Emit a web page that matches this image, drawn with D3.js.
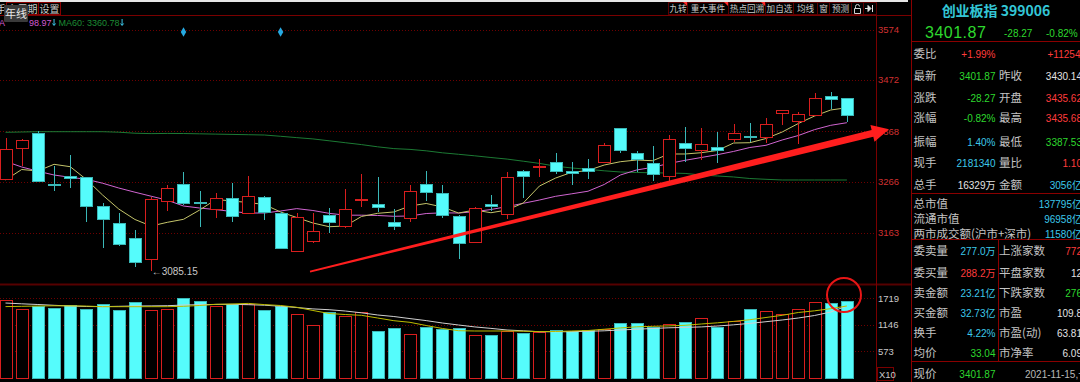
<!DOCTYPE html>
<html>
<head>
<meta charset="utf-8">
<script src="https://cdn.jsdelivr.net/npm/d3@7"></script>
<style>
body{margin:0;background:#000;overflow:hidden}
svg{display:block}
text{font-family:"Liberation Sans","Noto Sans CJK SC",sans-serif}
</style>
</head>
<body>
<div id="Canvas"></div>
<script>
//K線資料 (開 高 低 收)
const openP  = [3272,3333.7,3364,3261.5,3277.7,3275,3217,3182,3152.9,3109.2,3227.1,3261.5,3226.1,3210.3,3232.6,3202.2,3235.8,3202.2,3126.6,3146.8,3198.2,3177.2,3230,3220.4,3184,3192.1,3261.5,3244,3196.8,3143.6,3220.4,3200.8,3288.4,3296.9,3306.6,3288.4,3292.9,3305.4,3374.2,3324.8,3303.4,3278.3,3343.8,3330.3,3336.3,3352.5,3357.6,3356,3404.5,3389.5,3400.5,3439.5,3435.62]
const highP  = [3354,3352,3369.3,3297.9,3320,3276,3223.7,3202,3168.5,3235.8,3259.5,3285.2,3247.3,3244,3262.9,3277.7,3237,3204,3202,3202.2,3212.3,3251.4,3281.7,3275,3210.9,3259.5,3287.8,3259.5,3198.8,3214,3239.2,3286.4,3289,3311.5,3323.6,3306.6,3311.5,3345,3375,3328.2,3337.6,3360.6,3376.2,3374.2,3367.3,3382.9,3385.5,3395.6,3412,3406.5,3445,3448.2,3435.68]
const lowP   = [3272,3298.5,3265,3247.3,3252.8,3185.2,3131.4,3136.7,3093,3085.15,3206.9,3219,3175.1,3193.3,3185.2,3202,3188.7,3129.5,3124.6,3142.8,3163,3171.9,3214.4,3204.9,3168.5,3184,3227.1,3192.1,3109.2,3142,3207.5,3190,3234,3276.3,3281.7,3259.5,3271.6,3303.4,3324.8,3286.4,3267.6,3266.2,3306.6,3310,3304.6,3347,3347,3343.8,3380.8,3341.8,3400,3412.6,3387.53]
const closeP = [3332,3350.5,3267.6,3260.5,3273,3217.6,3190,3140,3104.3,3231.2,3252.8,3222.5,3225,3233.8,3196.8,3237.8,3204.3,3131.4,3194.1,3166.4,3184,3210.3,3231.8,3214.4,3177.2,3247.3,3245.9,3198.8,3141.6,3212.3,3217,3276.3,3278.3,3298.5,3288.4,3283.1,3288.4,3340.4,3330.3,3311.5,3281.1,3351.9,3333.7,3342.4,3330.3,3364,3355.6,3382.9,3411.2,3402.5,3436.1,3433.4,3401.87]
//均線
const ma5  = [3269.6,3290.8,3287.8,3301.3,3296.5,3270.6,3239.2,3210.9,3189.7,3176.5,3184,3190.1,3208.9,3230.1,3227.1,3224.1,3220,3204.9,3193.7,3182.6,3175.1,3176.5,3195.8,3202.2,3204.9,3217,3222.1,3215,3202.8,3208.9,3203.4,3208.9,3223.1,3257.4,3273.6,3285.2,3288.8,3299.9,3306.6,3310,3308.6,3322.2,3322.2,3324.8,3329.3,3344.4,3345,3353.5,3366.7,3383.9,3399,3411.2,3415.8]
const ma10 = [3307.4,3295.9,3287.4,3279.7,3275,3271,3263.1,3253.4,3244.9,3236.8,3228.7,3217,3212.9,3209.7,3205.9,3202.8,3202.8,3206.9,3211.7,3207.9,3202.2,3198.4,3198.4,3197.8,3196.2,3196.8,3201.8,3203.2,3202.8,3205.5,3209.9,3215.8,3222.5,3229.1,3236.6,3241.7,3246.9,3260.5,3279.7,3289.8,3295.3,3303,3309.4,3315.1,3320.8,3327.4,3335.3,3339.8,3350.5,3359.6,3371.5,3380.2,3385.5]
const ma60 = [3366.1,3366.7,3367.3,3367.3,3367.3,3367.3,3367.3,3366.3,3364.2,3363.4,3363.8,3363.6,3363,3362.4,3361.8,3361.2,3360.6,3358,3355.3,3352.7,3348.9,3345,3341.2,3336.7,3333.1,3331.5,3328.6,3324.6,3321.6,3318.5,3315.1,3311.9,3307.6,3303.2,3297.5,3293.9,3291.2,3288.2,3285.8,3284.8,3284.1,3283.7,3282.9,3279.7,3277.7,3275.7,3272.6,3271,3269.6,3269.6,3269.6,3269.6,3269.6]
//成交量 (X10)
const vol  = [1675,1494,1559,1503,1574,1494,1596,1460,1632,1466,1481,1732,1660,1546,1589,1589,1460,1559,1373,1136,1423,1337,1417,1014,1078,949,1093,1057,1078,927,934,1014,977,999,1035,1020,1035,1057,1186,1186,1107,1165,1208,1287,1093,1223,1481,1438,1380,1488,1632,1617,1660]
const vma5  = [1540,1546,1553,1557,1557,1551,1538,1538,1538,1538,1538,1546,1564,1589,1596,1609,1583,1564,1525,1456,1391,1369,1352,1294,1236,1201,1132,1068,1020,1014,1014,1014,1009,1001,1003,1014,1024,1052,1080,1104,1115,1124,1137,1165,1190,1221,1257,1305,1352,1413,1449,1495,1553]
const vma10 = [1617,1600,1585,1568,1553,1542,1540,1546,1553,1555,1559,1574,1581,1587,1589,1581,1570,1548,1520,1490,1473,1445,1406,1359,1326,1281,1238,1186,1143,1102,1070,1035,1018,998,998,998,1007,1018,1035,1052,1068,1083,1091,1102,1121,1147,1178,1214,1251,1294,1348,1423,1553]
//刻度
const priceTicks = [3574,3472,3368,3266,3163]
const volTicks = [1719,1146,573]
//標記
const diamondIdx = [11,17]
const lowMark = {i:9, value:3085.15}
const trendArrow = [{i:18.82, p:3084.5},{i:54.6, p:3372.1}]
const volCircle = {i:51.82, v:1790}
//上方按鈕
const leftTabs = [{t:"多周期",x0:6,x1:38},{t:"设置",x0:38,x1:60}]
const rightTabs = [{t:"九转",x0:668,x1:687,f:1},{t:"重大事件",x0:687,x1:728,f:1},{t:"热点回溯",x0:728,x1:765,f:1},{t:"加自选",x0:765,x1:793},{t:"均线",x0:793,x1:817},{t:"窗",x0:817,x1:829},{t:"预测",x0:829,x1:851},{t:"",x0:851,x1:863,lock:1},{t:"",x0:863,x1:876,pin:1}]
//均線說明
const legendItems = [{t:"98.97",c:"#d25ad2"},{t:"MA60: 3360.78",c:"#1c8c34"}]
//右邊報價
const quoteHead = ["创业板指 399006","3401.87","-28.27","-0.82%"]
const infoRows = [
  ["委比","+1.99%","r","","+112546","r",58],
  ["最新","3401.87","g","昨收","3430.14","w",80],
  ["涨跌","-28.27","g","开盘","3435.62","r",101.5],
  ["涨幅","-0.82%","g","最高","3435.68","r",122],
  ["振幅","1.40%","c","最低","3387.53","g",145.5],
  ["现手","2181340","c","量比","1.10","r",166.5],
  ["总手","16329万","w","金额","3056亿","c",189],
  ["总市值","","","","137795亿","c",208],
  ["流通市值","","","","96958亿","c",223],
  ["两市成交额(沪市+深市)","","","","11580亿","c",238],
  ["委卖量","277.0万","c","上涨家数","772","r",255],
  ["委买量","288.2万","r","平盘家数","12","w",276.5],
  ["卖金额","23.21亿","c","下跌家数","276","g",296.5],
  ["买金额","32.73亿","c","市盈","109.8","w",317],
  ["换手","4.22%","c","市盈(动)","63.81","w",336.5],
  ["均价","33.04","g","市净率","6.09","w",357]
]
const colorMap = {r:"#ff3c3c", g:"#2ed82e", c:"#3cc8ea", w:"#e2e2e2"}

const RED = "#d81e1e", CYAN = "#55fcfc", CYAN_EDGE = "#3ab8b8", GRID = "#6e0000", LINE = "#7a0000"

let svg = d3.select("#Canvas").append("svg")
    .attr("width",1080)
    .attr("height",382)
svg.append("rect").attr("width",1080).attr("height",382).attr("fill","#000")

let xScale = d3.scaleLinear().domain([0,52]).range([5.5,846.9])
let yScale = d3.scaleLinear().domain([3163,3574]).range([232.7,29.5])
let vScale = d3.scaleLinear().domain([0,1719]).range([378,298.3])
const idx = d3.range(openP.length)
const cx = i=>Math.round(xScale(i))

//頂部
svg.append("rect").attr("x",0).attr("y",0).attr("width",908).attr("height",2).attr("fill","#e6e6e6")
svg.append("line").attr("x1",0).attr("x2",911).attr("y1",15.5).attr("y2",15.5).attr("stroke",LINE)
svg.append("text").attr("x",-4).attr("y",12.5).attr("fill","#d0d0d0").style("font-size","10px").text("手")
let lt = svg.append("g").selectAll("g").data(leftTabs).enter().append("g")
lt.append("rect").attr("x",d=>d.x0+0.5).attr("y",2.5).attr("width",d=>d.x1-d.x0).attr("height",12)
    .attr("fill","none").attr("stroke","#8a0000")
lt.append("text").attr("x",d=>(d.x0+d.x1)/2+0.5).attr("y",12.5).attr("text-anchor","middle")
    .attr("fill","#c8c8c8").style("font-size","10px").text(d=>d.t)
let rt = svg.append("g").selectAll("g").data(rightTabs).enter().append("g")
rt.append("rect").attr("x",d=>d.x0+0.5).attr("y",2.5).attr("width",d=>d.x1-d.x0).attr("height",12)
    .attr("fill","none").attr("stroke","#5a0000")
rt.append("text").attr("x",d=>(d.x0+d.x1)/2+0.5).attr("y",12.3).attr("text-anchor","middle")
    .attr("fill","#c8c8c8").style("font-size","8.6px").text(d=>d.t)
rt.filter(d=>d.f).append("path").attr("d",d=>`M${d.x1-4},2 L${d.x1},2 L${d.x1},6 Z`).attr("fill","#ff2a2a")
rt.filter(d=>d.lock).append("path")
    .attr("d",d=>`M${d.x0+3.5},8.5 h6 v5 h-6 Z M${d.x0+4.5},8.5 v-2 a2,2 0 0 1 4,0`)
    .attr("fill","none").attr("stroke","#d0d0d0")
rt.filter(d=>d.pin).append("path")
    .attr("d",d=>`M${d.x0+2},8.5 h5 M${d.x0+5},5.5 l3,3 l-3,3 Z M${d.x0+9.5},5 v7`)
    .attr("fill","#e0e0e0").attr("stroke","#e0e0e0")

//格線
svg.append("g").selectAll("line").data(priceTicks).enter().append("line")
    .attr("x1",0).attr("x2",876).attr("y1",d=>Math.round(yScale(d))+0.5).attr("y2",d=>Math.round(yScale(d))+0.5)
    .attr("stroke",GRID).attr("stroke-dasharray","1,2")
svg.append("g").selectAll("line").data(volTicks).enter().append("line")
    .attr("x1",0).attr("x2",876).attr("y1",d=>Math.round(vScale(d))+0.5).attr("y2",d=>Math.round(vScale(d))+0.5)
    .attr("stroke",GRID).attr("stroke-dasharray","1,2")
svg.append("line").attr("x1",0).attr("x2",911).attr("y1",284.5).attr("y2",284.5).attr("stroke","#560000").attr("stroke-width",2)
svg.append("line").attr("x1",876.5).attr("x2",876.5).attr("y1",15).attr("y2",382).attr("stroke",LINE)

//座標文字
svg.append("g").selectAll("text").data(priceTicks).enter().append("text")
    .attr("x",878).attr("y",d=>yScale(d)+3.5).attr("fill","#d03030").style("font-size","9.5px").text(d=>d)
svg.append("g").selectAll("text").data(volTicks).enter().append("text")
    .attr("x",878).attr("y",d=>vScale(d)+3.5).attr("fill","#c8c8c8").style("font-size","9.5px").text(d=>d)
svg.append("rect").attr("x",877.5).attr("y",367.5).attr("width",16).attr("height",13).attr("fill","none").attr("stroke","#7a0000")
svg.append("text").attr("x",879).attr("y",378).attr("fill","#c8c8c8").style("font-size","9.5px").text("X10")

//均線
const lineOf = arr=>d3.line().x(i=>xScale(i)).y(i=>yScale(arr[i]))(idx)
svg.append("path").attr("d",lineOf(ma60)).attr("fill","none").attr("stroke","#1c7a34")
svg.append("path").attr("d",lineOf(ma10)).attr("fill","none").attr("stroke","#d065d0")
svg.append("path").attr("d",lineOf(ma5)).attr("fill","none").attr("stroke","#c4c46a")

//K線
let kg = svg.append("g").selectAll("g").data(idx).enter().append("g").style("shape-rendering","crispEdges")
kg.each(function(i){
    let g = d3.select(this)
    let up = closeP[i] >= openP[i]
    let top = Math.round(yScale(Math.max(openP[i],closeP[i])))
    let bot = Math.max(Math.round(yScale(Math.min(openP[i],closeP[i]))), top+1)
    let c = cx(i)
    let hi = Math.round(yScale(highP[i])), lo = Math.round(yScale(lowP[i]))
    let col = up ? RED : CYAN_EDGE
    if(hi < top) g.append("line").attr("x1",c+0.5).attr("x2",c+0.5).attr("y1",hi).attr("y2",top).attr("stroke",col)
    if(lo > bot) g.append("line").attr("x1",c+0.5).attr("x2",c+0.5).attr("y1",bot).attr("y2",lo).attr("stroke",col)
    g.append("rect").attr("x",c-5.5).attr("y",top+0.5).attr("width",12).attr("height",bot-top)
        .attr("fill",up ? "#000" : CYAN).attr("stroke",up ? RED : CYAN_EDGE)
})

//成交量
svg.append("g").style("shape-rendering","crispEdges").selectAll("rect").data(idx).enter().append("rect")
    .attr("x",i=>cx(i)-5.5).attr("y",i=>Math.round(vScale(vol[i]))+0.5)
    .attr("width",12).attr("height",i=>378-Math.round(vScale(vol[i])))
    .attr("fill",i=>closeP[i]>=openP[i] ? "#000" : CYAN)
    .attr("stroke",i=>closeP[i]>=openP[i] ? RED : CYAN_EDGE)
const vline = arr=>d3.line().x(i=>xScale(i)).y(i=>vScale(arr[i]))(idx)
svg.append("path").attr("d",vline(vma10)).attr("fill","none").attr("stroke","#d0d0d0")
svg.append("path").attr("d",vline(vma5)).attr("fill","none").attr("stroke","#bcbc00")

//最低價標記
svg.append("text").attr("x",xScale(lowMark.i)+0.5).attr("y",yScale(lowMark.value)+3.5)
    .attr("fill","#c8c8c8").style("font-size","10px").text("←" + lowMark.value.toFixed(2))

//菱形
svg.append("g").selectAll("path").data(diamondIdx).enter().append("path")
    .attr("d",d3.symbol(d3.symbolDiamond,26))
    .attr("transform",d=>`translate(${xScale(d)},32)`).attr("fill","#27a9e1")

//趨勢箭頭
let p0 = [xScale(trendArrow[0].i), yScale(trendArrow[0].p)]
let p1 = [xScale(trendArrow[1].i), yScale(trendArrow[1].p)]
let len = Math.hypot(p1[0]-p0[0], p1[1]-p0[1])
let u = [(p1[0]-p0[0])/len, (p1[1]-p0[1])/len], n = [-u[1], u[0]]
let pb = [p1[0]-u[0]*17, p1[1]-u[1]*17]
const pt = (p,w)=>[[p[0]+n[0]*w, p[1]+n[1]*w],[p[0]-n[0]*w, p[1]-n[1]*w]]
let a = pt(p0,0.9), b = pt(pb,3.6), h = pt(pb,8.5)
svg.append("path").attr("fill","#ff1e1e")
    .attr("d",`M${a[0]} L${b[0]} L${h[0]} L${p1} L${h[1]} L${b[1]} L${a[1]} Z`)

//紅圈
svg.append("circle").attr("cx",xScale(volCircle.i)).attr("cy",vScale(volCircle.v)).attr("r",17)
    .attr("fill","none").attr("stroke","#e81616").attr("stroke-width",2)

//均線說明 (箭頭接在文字後面)
let lx = 29
legendItems.forEach(d=>{
    let t = svg.append("text").attr("x",lx).attr("y",26).attr("fill",d.c).style("font-size","9px").text(d.t)
    lx += t.node().getComputedTextLength() + 1
    svg.append("path").attr("d",`M${lx+1.5},19 v6 M${lx},23.5 l1.5,2 l1.5,-2`).attr("fill","none").attr("stroke","#3cc8ea")
    lx += 6
})
svg.append("text").attr("x",-1).attr("y",26).attr("fill","#d25ad2").style("font-size","9px").text("A")
svg.append("rect").attr("x",4).attr("y",5).attr("width",24).attr("height",17).attr("rx",1).attr("fill","#3a3a3a")
svg.append("text").attr("x",16).attr("y",17.5).attr("text-anchor","middle").attr("fill","#e8e8e8").style("font-size","11px").text("年线")

//右邊面板
svg.append("line").attr("x1",911.5).attr("x2",911.5).attr("y1",0).attr("y2",382).attr("stroke","#8a0000")
svg.append("g").selectAll("line").data([41.5,193.5,239.5,361.5]).enter().append("line")
    .attr("x1",911).attr("x2",1080).attr("y1",d=>d).attr("y2",d=>d).attr("stroke","#8a0000")
svg.append("line").attr("x1",998.5).attr("x2",998.5).attr("y1",240).attr("y2",361).attr("stroke","#8a0000")
svg.append("text").attr("x",996).attr("y",16).attr("text-anchor","middle").attr("fill","#33c6d6")
    .style("font-size","14px").style("font-weight","bold").style("font-family","Noto Sans CJK SC").text(quoteHead[0])
svg.append("text").attr("x",925).attr("y",38).attr("fill","#2ed82e").style("font-size","16px").style("letter-spacing","0.5px").text(quoteHead[1])
svg.append("text").attr("x",1004).attr("y",37).attr("fill","#2ed82e").style("font-size","10px").text(quoteHead[2])
svg.append("text").attr("x",1046).attr("y",37).attr("fill","#2ed82e").style("font-size","10px").text(quoteHead[3])

let rows = svg.append("g").selectAll("g").data(infoRows).enter().append("g")
rows.append("text").attr("x",913.5).attr("y",d=>d[6]).attr("fill","#c4c4c4")
    .style("font-size","11.5px").style("font-family","Noto Sans CJK SC").text(d=>d[0])
rows.append("text").attr("x",995.5).attr("y",d=>d[6]).attr("text-anchor","end").attr("fill",d=>colorMap[d[2]])
    .style("font-size","10px").text(d=>d[1])
rows.append("text").attr("x",999).attr("y",d=>d[6]).attr("fill","#c4c4c4")
    .style("font-size","11.5px").style("font-family","Noto Sans CJK SC").text(d=>d[3])
rows.append("text").attr("x",(d,k)=>k==0 ? 1086 : 1082).attr("y",d=>d[6]).attr("text-anchor","end").attr("fill",d=>colorMap[d[5]])
    .style("font-size","10px").text(d=>d[4])
svg.append("text").attr("x",913.5).attr("y",378).attr("fill","#c4c4c4").style("font-size","11.5px").style("font-family","Noto Sans CJK SC").text("现价")
svg.append("text").attr("x",995.5).attr("y",378).attr("text-anchor","end").attr("fill","#2ed82e").style("font-size","10px").text(quoteHead[1])
svg.append("text").attr("x",1025).attr("y",378).attr("fill","#b8b8b8").style("font-size","10px").text("2021-11-15,一")
</script>
</body>
</html>
